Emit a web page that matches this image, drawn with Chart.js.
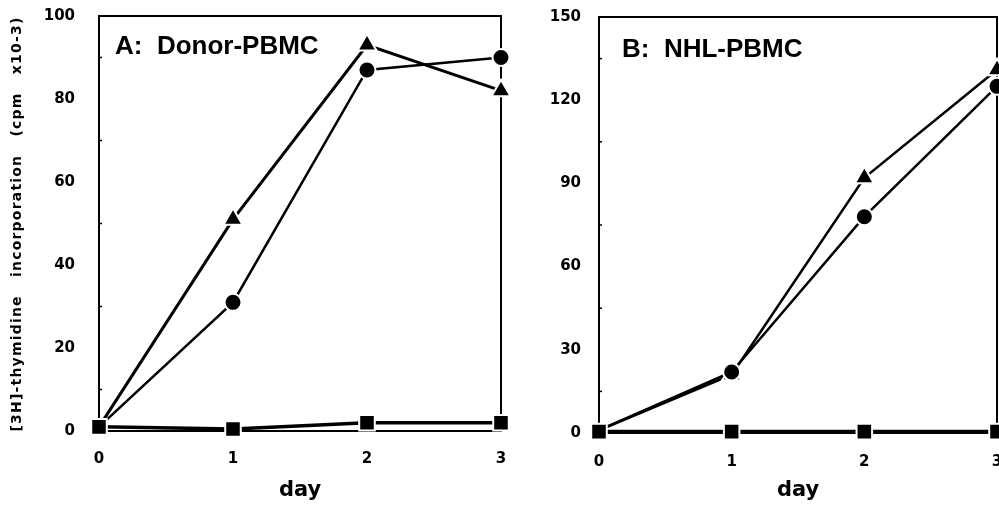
<!DOCTYPE html>
<html>
<head>
<meta charset="utf-8">
<script src="https://cdn.jsdelivr.net/npm/chart.js@4"></script>
<style>
html, body { margin: 0; padding: 0; background: #fff; overflow: hidden; width: 999px; height: 508px; }
#wrapA { position: absolute; left: 0; top: 0; width: 520px; height: 508px; }
#wrapB { position: absolute; left: 520px; top: 0; width: 490px; height: 508px; }
</style>
</head>
<body>
<div id="wrapA"><canvas id="chartA" width="520" height="508"></canvas></div>
<div id="wrapB"><canvas id="chartB" width="490" height="508"></canvas></div>
<script>
// days of culture
const days = [0, 1, 2, 3];

// A: Donor-PBMC (cpm x10-3)
const donorTriangle = [1, 51, 93, 82];
const donorCircle = [1, 31, 87, 90];
const donorSquare = [1, 0.5, 2, 2];

// B: NHL-PBMC (cpm x10-3)
const nhlTriangle = [1, 21, 92, 131];
const nhlCircle = [1, 22, 78, 125];
const nhlSquare = [0.5, 0.5, 0.5, 0.5];

const ticksA = [0, 20, 40, 60, 80, 100];
const ticksB = [0, 30, 60, 90, 120, 150];

const yTitle = '[3H]-thymidine   incorporation   (cpm   x10-3)';

function pts(ys) {
    return days.map((d, i) => ({ x: d, y: ys[i] }));
}

function series(ys, style, radius, width) {
    return {
        data: pts(ys),
        borderColor: '#000',
        backgroundColor: '#000',
        borderWidth: width,
        pointStyle: style,
        pointRadius: radius,
        pointBackgroundColor: '#000',
        pointBorderColor: '#fff',
        pointBorderWidth: 2,
        clip: false,
        tension: 0
    };
}

// frame, minor ticks, panel label and y title
const panelPlugin = {
    id: 'panel',
    beforeDatasetsDraw(chart, args, opts) {
        const ctx = chart.ctx;
        const a = chart.chartArea;
        const y = chart.scales.y;
        ctx.save();
        ctx.strokeStyle = '#000';
        ctx.lineWidth = 2;
        ctx.strokeRect(a.left, a.top, a.right - a.left, a.bottom - a.top);
        ctx.lineWidth = 1.5;
        opts.minor.forEach(v => {
            const py = y.getPixelForValue(v);
            ctx.beginPath();
            ctx.moveTo(a.left, py);
            ctx.lineTo(a.left + 3, py);
            ctx.stroke();
        });
        ctx.restore();
    },
    afterDraw(chart, args, opts) {
        const ctx = chart.ctx;
        ctx.save();
        ctx.fillStyle = '#000';
        ctx.font = 'bold 26px "Liberation Sans", Arial, sans-serif';
        ctx.textBaseline = 'middle';
        ctx.fillText(opts.label, opts.labelX, opts.labelY);
        if (opts.yTitle) {
            ctx.translate(17, 224);
            ctx.rotate(-Math.PI / 2);
            ctx.font = 'bold 14px "DejaVu Sans", sans-serif';
            ctx.letterSpacing = '1.2px';
            ctx.textAlign = 'center';
            ctx.fillText(opts.yTitle, 0, 0);
        }
        ctx.restore();
    }
};

function makeChart(id, tri, cir, sq, yMax, tickList, cfg) {
    const ctx = document.getElementById(id).getContext('2d');
    const hideFirst = r => days.map((d, i) => (i === 0 ? 0 : r));
    const triSet = series(tri, 'triangle', 11, cfg.triWidth);
    triSet.pointRadius = hideFirst(11);
    const cirSet = series(cir, 'circle', 8.5, 2.5);
    cirSet.pointRadius = hideFirst(8.5);
    return new Chart(ctx, {
        type: 'line',
        data: {
            datasets: [
                series(sq, 'rect', 11, 3.5),
                cirSet,
                triSet
            ]
        },
        options: {
            responsive: false,
            animation: false,
            layout: { padding: { top: cfg.top, right: cfg.right, bottom: 0, left: 0 } },
            plugins: {
                legend: { display: false },
                tooltip: { enabled: false },
                panel: {
                    label: cfg.label,
                    labelX: cfg.labelX,
                    labelY: cfg.labelY,
                    yTitle: cfg.yTitle,
                    minor: cfg.minor
                }
            },
            scales: {
                x: {
                    type: 'linear',
                    min: 0,
                    max: 3,
                    afterFit: s => { s.height = cfg.xHeight; s.paddingLeft = 0; s.paddingRight = 0; },
                    afterBuildTicks: s => { s.ticks = days.map(v => ({ value: v })); },
                    grid: { display: false },
                    border: { display: false },
                    ticks: {
                        padding: cfg.xPad,
                        color: '#000',
                        maxRotation: 0,
                        font: { family: 'DejaVu Sans', weight: 'bold', size: 15 }
                    },
                    title: {
                        display: true,
                        text: 'day',
                        color: '#000',
                        padding: { top: 0, bottom: 5 },
                        font: { family: 'DejaVu Sans', weight: 'bold', size: 21 }
                    }
                },
                y: {
                    type: 'linear',
                    min: 0,
                    max: yMax,
                    afterFit: s => { s.width = cfg.yWidth; s.paddingTop = 0; s.paddingBottom = 0; },
                    afterBuildTicks: s => { s.ticks = tickList.map(v => ({ value: v })); },
                    grid: { display: false },
                    border: { display: false },
                    ticks: {
                        padding: cfg.yPad,
                        color: '#000',
                        font: { family: 'DejaVu Sans', weight: 'bold', size: 15 }
                    }
                }
            }
        },
        plugins: [panelPlugin]
    });
}

makeChart('chartA', donorTriangle, donorCircle, donorSquare, 100, ticksA, {
    top: 16, right: 19, xHeight: 77, yWidth: 99, xPad: 11, yPad: 16, triWidth: 3,
    label: 'A:  Donor-PBMC', labelX: 115, labelY: 47, yTitle: yTitle,
    minor: [10, 30, 50, 70, 90]
});

makeChart('chartB', nhlTriangle, nhlCircle, nhlSquare, 150, ticksB, {
    top: 17, right: 11, xHeight: 75, yWidth: 79, xPad: 12, yPad: 10, triWidth: 2.5,
    label: 'B:  NHL-PBMC', labelX: 102, labelY: 50, yTitle: null,
    minor: [15, 45, 75, 105, 135]
});
</script>
</body>
</html>
